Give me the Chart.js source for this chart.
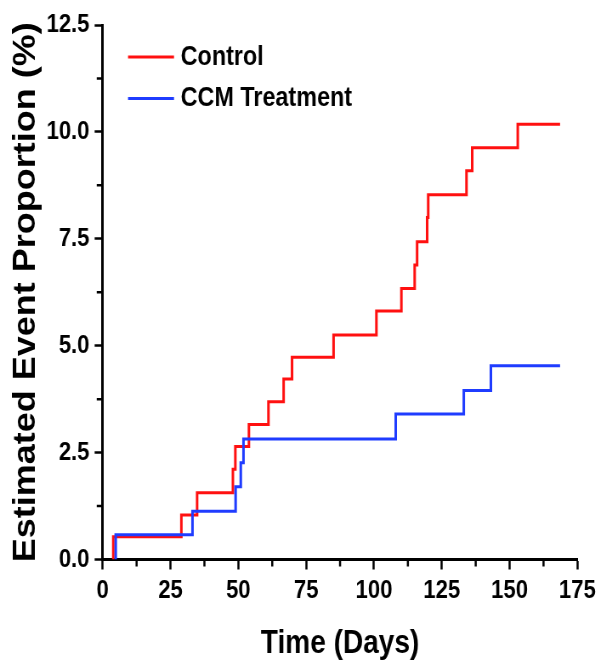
<!DOCTYPE html>
<html>
<head>
<meta charset="utf-8">
<script src="https://cdn.jsdelivr.net/npm/chart.js@4"></script>
<style>
  html, body { margin: 0; padding: 0; background: #fff; overflow: hidden; }
  #wrap { width: 601px; height: 672px; overflow: hidden; }
  /* the source figure is squeezed horizontally, so draw wider and squeeze */
  #kmChart { transform: scaleX(0.85); transform-origin: 0 0; }
</style>
</head>
<body>
<div id="wrap"><canvas id="kmChart" width="707" height="672"></canvas></div>
<script>
// Kaplan-Meier style cumulative event curves
const controlDays = [3.9, 3.9, 29.0, 34.8, 48.0, 48.9, 53.9, 61.1, 66.7, 69.8, 85.1, 100.9, 110.1, 115.0, 115.9, 119.6, 120.0, 134.1, 136.2, 153.0, 168.6];
const controlPct  = [0, 0.53, 1.04, 1.56, 2.11, 2.64, 3.16, 3.69, 4.22, 4.73, 5.25, 5.81, 6.34, 6.89, 7.43, 8.00, 8.53, 9.09, 9.63, 10.18, 10.18];

const ccmDays = [4.8, 4.8, 33.1, 49.0, 50.9, 51.9, 108.0, 133.1, 143.1, 168.6];
const ccmPct  = [0, 0.58, 1.13, 1.70, 2.26, 2.82, 3.40, 3.95, 4.53, 4.53];

const seriesNames = ["Control", "CCM Treatment"];
const xTicks = [0, 25, 50, 75, 100, 125, 150, 175];
const yTicks = [0, 2.5, 5, 7.5, 10, 12.5];

const sans = "'Liberation Sans', Arial, Helvetica, sans-serif";

function toPoints(days, pct) {
  return days.map((d, i) => ({ x: d, y: pct[i] }));
}

// minor ticks half way between the labelled ones
const minorTicks = {
  id: "minorTicks",
  afterDraw(chart) {
    const ctx = chart.ctx;
    const xs = chart.scales.x;
    const ys = chart.scales.y;
    const area = chart.chartArea;
    ctx.save();
    ctx.strokeStyle = "#000";
    ctx.lineWidth = 2.5;
    ctx.beginPath();
    for (let i = 0; i < xTicks.length - 1; i++) {
      const px = xs.getPixelForValue((xTicks[i] + xTicks[i + 1]) / 2);
      ctx.moveTo(px, area.bottom);
      ctx.lineTo(px, area.bottom + 7);
    }
    for (let i = 0; i < yTicks.length - 1; i++) {
      const py = ys.getPixelForValue((yTicks[i] + yTicks[i + 1]) / 2);
      ctx.moveTo(area.left, py);
      ctx.lineTo(area.left - 7, py);
    }
    ctx.stroke();
    ctx.restore();
  }
};

// legend drawn inside the plot, top left
const insideLegend = {
  id: "insideLegend",
  afterDraw(chart) {
    const ctx = chart.ctx;
    const rows = [57, 98.5];
    ctx.save();
    ctx.font = "bold 27.5px " + sans;
    ctx.textBaseline = "middle";
    ctx.textAlign = "left";
    chart.data.datasets.forEach((ds, i) => {
      ctx.strokeStyle = ds.borderColor;
      ctx.lineWidth = 3;
      ctx.beginPath();
      ctx.moveTo(150.6, rows[i]);
      ctx.lineTo(204.7, rows[i]);
      ctx.stroke();
      ctx.fillStyle = "#000";
      ctx.fillText(ds.label, 212.5, rows[i]);
    });
    ctx.restore();
  }
};

function createChart() {
  const ctx = document.getElementById("kmChart").getContext("2d");

  new Chart(ctx, {
    type: "line",
    data: {
      datasets: [
        {
          label: seriesNames[0],
          data: toPoints(controlDays, controlPct),
          borderColor: "#ff1010",
          borderWidth: 3,
          pointRadius: 0,
          stepped: true,
          fill: false,
          order: 1,
        },
        {
          label: seriesNames[1],
          data: toPoints(ccmDays, ccmPct),
          borderColor: "#1f3cff",
          borderWidth: 3,
          pointRadius: 0,
          stepped: true,
          fill: false,
          order: 0,
        },
      ],
    },
    options: {
      responsive: false,
      animation: false,
      events: [],
      layout: { padding: { top: 25, right: 25.8, bottom: 0, left: 0 } },
      plugins: {
        legend: { display: false },
        tooltip: { enabled: false },
      },
      scales: {
        x: {
          type: "linear",
          min: 0,
          max: 175,
          afterFit: (scale) => { scale.height = 112.5; },
          afterBuildTicks: (scale) => { scale.ticks = xTicks.map((v) => ({ value: v })); },
          ticks: {
            autoSkip: false,
            maxRotation: 0,
            padding: 6,
            color: "#000",
            font: { family: sans, size: 26, weight: "bold" },
          },
          grid: {
            drawOnChartArea: false,
            drawTicks: true,
            tickLength: 10,
            tickWidth: 2.5,
            tickColor: "#000",
          },
          border: { display: true, color: "#000", width: 3 },
          title: {
            display: true,
            text: "Time (Days)",
            color: "#000",
            padding: { top: 0, bottom: 8 },
            font: { family: sans, size: 33, weight: "bold" },
          },
        },
        y: {
          type: "linear",
          min: 0,
          max: 12.5,
          afterFit: (scale) => { scale.width = 120.8; },
          afterBuildTicks: (scale) => { scale.ticks = yTicks.map((v) => ({ value: v })); },
          ticks: {
            padding: 6,
            color: "#000",
            font: { family: sans, size: 26, weight: "bold" },
            callback: (v) => Number(v).toFixed(1),
          },
          grid: {
            drawOnChartArea: false,
            drawTicks: true,
            tickLength: 9.5,
            tickWidth: 2.5,
            tickColor: "#000",
          },
          border: { display: true, color: "#000", width: 3 },
          title: {
            display: true,
            text: "Estimated Event Proportion (%)",
            color: "#000",
            padding: { top: 9, bottom: 0 },
            font: { family: sans, size: 36, weight: "bold" },
          },
        },
      },
    },
    plugins: [minorTicks, insideLegend],
  });
}

document.addEventListener("DOMContentLoaded", function () {
  createChart();
});
</script>
</body>
</html>
